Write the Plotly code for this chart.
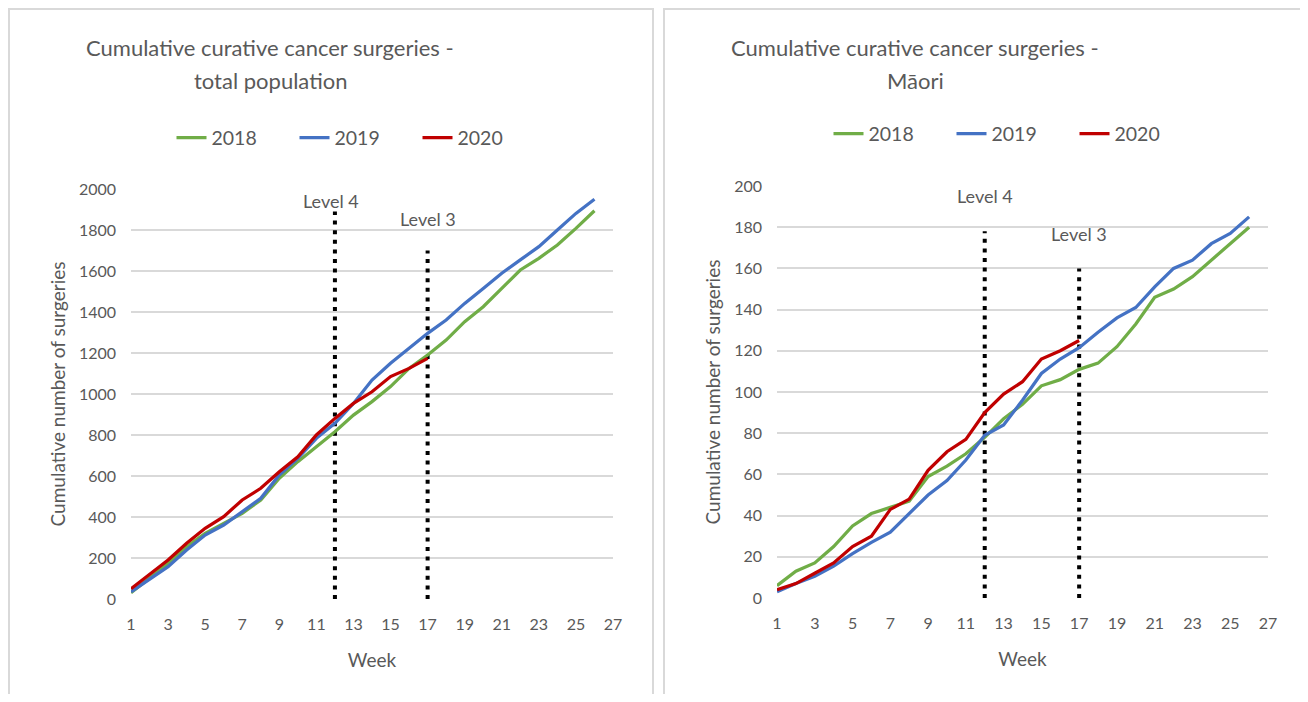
import plotly.graph_objects as go

# weeks and cumulative surgeries
weeks = list(range(1, 27))

total_2018 = [30, 100, 174, 255, 320, 369, 418, 483, 589, 670, 743, 816, 897, 963, 1036,
              1125, 1190, 1263, 1353, 1426, 1515, 1605, 1662, 1727, 1808, 1894]
total_2019 = [35, 95, 158, 239, 312, 361, 426, 491, 605, 686, 784, 857, 954, 1068, 1150,
              1223, 1296, 1361, 1442, 1515, 1589, 1654, 1719, 1800, 1881, 1950]
total_2020 = [50, 120, 190, 272, 345, 402, 483, 540, 621, 694, 800, 881, 954, 1011, 1085,
              1125, 1174]

maori_2018 = [6, 13, 17, 25, 35, 41, 44, 47, 59, 64, 70, 78, 87, 94, 103, 106, 111, 114,
              122, 133, 146, 150, 156, 164, 172, 180]
maori_2019 = [3, 7, 10.5, 15.5, 21.5, 27, 32, 41, 50, 57, 67, 79, 84, 96, 109, 116, 121.5,
              129, 136, 141, 151, 160, 164, 172, 177, 185]
maori_2020 = [4, 7, 12, 17, 25, 30, 43, 48, 62, 71, 77, 90, 99, 105, 116, 120, 125]

years = ["2018", "2019", "2020"]
line_colors = ["#70AD47", "#4472C4", "#C00000"]

# alert level markers: week, top of dotted line
level_names = ["Level 4", "Level 3"]
level_weeks = [12, 17]
total_level_tops = [1890, 1700]
maori_level_tops = [178, 160]

# chart titles, one entry per line
title_lines = [["Cumulative curative cancer surgeries -", "total population"],
               ["Cumulative curative cancer surgeries -", "Māori"]]

FONT = "Lato"
GREY = "#595959"
GRID = "#d9d9d9"

# figure is drawn inside the page body (8px margin), so size it to fit the window
PAGE_M = 8
W, H = 1308 - 2 * PAGE_M, 702 - 2 * PAGE_M


def px(sx):
    return (sx - PAGE_M) / W


def py(sy):
    return 1 - (sy - PAGE_M) / H


fig = go.Figure()

panels = [
    ("x", "y", "legend", [total_2018, total_2019, total_2020], total_level_tops),
    ("x2", "y2", "legend2", [maori_2018, maori_2019, maori_2020], maori_level_tops),
]

for xa, ya, leg, series, tops in panels:
    for wk, top in zip(level_weeks, tops):
        fig.add_trace(go.Scatter(x=[wk, wk], y=[0, top], mode="lines", showlegend=False,
                                 line=dict(color="black", width=4, dash="4px,5.6px"),
                                 xaxis=xa, yaxis=ya, hoverinfo="skip"))
    for name, vals, col in zip(years, series, line_colors):
        fig.add_trace(go.Scatter(x=weeks[:len(vals)], y=vals, mode="lines", name=name,
                                 line=dict(color=col, width=3.25), xaxis=xa, yaxis=ya,
                                 legend=leg))

xcommon = dict(range=[1, 27], tickvals=list(range(1, 28, 2)), showgrid=False, zeroline=False,
               showline=False, ticks="", ticklabelstandoff=14, automargin=False,
               tickfont=dict(family=FONT, size=16, color=GREY),
               title=dict(text="Week", font=dict(family=FONT, size=19, color=GREY), standoff=21))
ycommon = dict(showgrid=True, gridcolor=GRID, gridwidth=1.5, zeroline=False, showline=False,
               ticks="", ticklabelstandoff=14, automargin=False,
               tickfont=dict(family=FONT, size=16, color=GREY),
               title=dict(text="Cumulative number of surgeries",
                          font=dict(family=FONT, size=19, color=GREY), standoff=8))

legend_font = dict(family=FONT, size=19.5, color=GREY)

fig.update_layout(
    width=W, height=H, margin=dict(l=0, r=0, t=0, b=0),
    paper_bgcolor="white", plot_bgcolor="white",
    xaxis=dict(domain=[px(131), px(613)], anchor="y", **xcommon),
    yaxis=dict(domain=[py(599), py(189)], anchor="x", range=[0, 2000], dtick=200, **ycommon),
    xaxis2=dict(domain=[px(777), px(1268)], anchor="y2", **xcommon),
    yaxis2=dict(domain=[py(598), py(186)], anchor="x2", range=[0, 200], dtick=20, **ycommon),
    legend=dict(orientation="h", x=px(356), xanchor="center", y=py(138), yanchor="middle",
                font=legend_font, entrywidth=78),
    legend2=dict(orientation="h", x=px(1013), xanchor="center", y=py(134), yanchor="middle",
                 font=legend_font, entrywidth=78),
    showlegend=True,
)

# chart titles
for lines, cx in zip(title_lines, [270, 915]):
    for text, ly in zip(lines, [47, 80]):
        fig.add_annotation(text=text, x=px(cx), y=py(ly), xref="paper", yref="paper",
                           xanchor="center", yanchor="middle", showarrow=False,
                           font=dict(family=FONT, size=22, color=GREY))

# level labels
label_pos = {"x": [(331, 201), (428, 219)], "x2": [(985, 196), (1079, 234)]}
for xa in ["x", "x2"]:
    for name, (lx, ly) in zip(level_names, label_pos[xa]):
        fig.add_annotation(text=name, x=px(lx), y=py(ly), xref="paper", yref="paper",
                           xanchor="center", yanchor="middle", showarrow=False,
                           font=dict(family=FONT, size=18, color=GREY))

# chart area borders
for x0, x1 in [(9, 653), (664, 1320)]:
    fig.add_shape(type="rect", xref="paper", yref="paper", x0=px(x0), x1=px(x1),
                  y0=py(720), y1=py(9), line=dict(color=GRID, width=2))

fig.write_html("out.html")
